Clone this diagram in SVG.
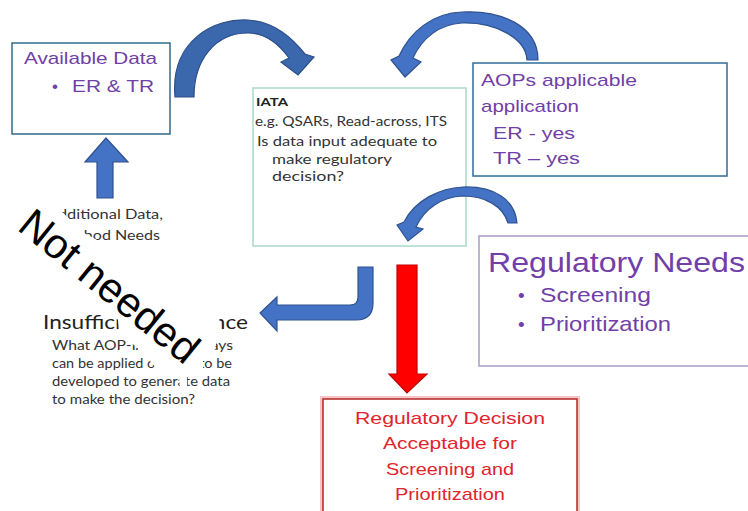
<svg xmlns="http://www.w3.org/2000/svg" width="748" height="511" viewBox="0 0 748 511">
<style>
.box{fill:#fff;stroke-width:1.5}
.arial{font-family:"Liberation Sans",Arial,sans-serif}
.cal{font-family:Lato,"Open Sans",sans-serif}
.purple{fill:#7040a8}
.gray{fill:#333}
.blue{fill:#4472c4;stroke:#2f528f;stroke-width:1.2}
.dblue{fill:#3b67ad;stroke:#2b4f8a;stroke-width:1.2}
</style>
<rect width="748" height="511" fill="#fff"/>

<g id="available-data">
<rect class="box" x="12" y="43" width="158" height="91" stroke="#2e6c8a"/>
<text class="arial purple" x="24" y="64" font-size="17" textLength="133" lengthAdjust="spacingAndGlyphs">Available Data</text>
<text class="arial purple" x="52" y="92" font-size="17">•</text>
<text class="arial purple" x="72" y="92" font-size="17" textLength="82" lengthAdjust="spacingAndGlyphs">ER  &amp; TR</text>
</g>

<g id="iata">
<rect class="box" x="253" y="88" width="213" height="158" stroke="#a9d9c9"/>
<text class="cal" x="256" y="106" font-size="12" font-weight="bold" fill="#222" textLength="32" lengthAdjust="spacingAndGlyphs">IATA</text>
<text class="cal gray" x="255" y="126" font-size="14" textLength="192" lengthAdjust="spacingAndGlyphs">e.g. QSARs, Read-across, ITS</text>
<text class="cal gray" x="257" y="146" font-size="14" textLength="180" lengthAdjust="spacingAndGlyphs">Is data input adequate to</text>
<text class="cal gray" x="272" y="164" font-size="14" textLength="120" lengthAdjust="spacingAndGlyphs">make regulatory</text>
<text class="cal gray" x="272" y="181" font-size="14" textLength="72" lengthAdjust="spacingAndGlyphs">decision?</text>
</g>

<g id="aops">
<rect class="box" x="473" y="63" width="254" height="113" stroke="#2e6c9a"/>
<text class="arial purple" x="481" y="86" font-size="17" textLength="156" lengthAdjust="spacingAndGlyphs">AOPs applicable</text>
<text class="arial purple" x="481" y="112" font-size="17" textLength="98" lengthAdjust="spacingAndGlyphs">application</text>
<text class="arial purple" x="493" y="139" font-size="17" textLength="82" lengthAdjust="spacingAndGlyphs">ER  - yes</text>
<text class="arial purple" x="493" y="164" font-size="17" textLength="87" lengthAdjust="spacingAndGlyphs">TR – yes</text>
</g>

<g id="regulatory-needs">
<rect class="box" x="479" y="236" width="280" height="130" stroke="#a89cc4"/>
<text class="arial purple" x="488" y="272" font-size="28" textLength="257" lengthAdjust="spacingAndGlyphs">Regulatory  Needs</text>
<text class="arial purple" x="518" y="302" font-size="19">•</text>
<text class="arial purple" x="540" y="302" font-size="21" textLength="111" lengthAdjust="spacingAndGlyphs">Screening</text>
<text class="arial purple" x="518" y="331" font-size="19">•</text>
<text class="arial purple" x="540" y="331" font-size="21" textLength="131" lengthAdjust="spacingAndGlyphs">Prioritization</text>
</g>

<g id="regulatory-decision">
<rect x="323" y="399" width="254" height="130" fill="none" stroke="#f6c4c4" stroke-width="6"/>
<rect class="box" x="323" y="399" width="254" height="130" stroke="#b42828"/>
<text class="arial" x="450" y="424" font-size="17" fill="#e0242c" text-anchor="middle" textLength="190" lengthAdjust="spacingAndGlyphs">Regulatory Decision</text>
<text class="arial" x="450" y="449" font-size="17" fill="#e0242c" text-anchor="middle" textLength="134" lengthAdjust="spacingAndGlyphs">Acceptable for</text>
<text class="arial" x="450" y="475" font-size="17" fill="#e0242c" text-anchor="middle" textLength="128" lengthAdjust="spacingAndGlyphs">Screening and</text>
<text class="arial" x="450" y="500" font-size="17" fill="#e0242c" text-anchor="middle" textLength="110" lengthAdjust="spacingAndGlyphs">Prioritization</text>
</g>

<g id="additional-data">
<text class="cal gray" x="47" y="219" font-size="14" textLength="116" lengthAdjust="spacingAndGlyphs">Additional Data,</text>
<text class="cal gray" x="55" y="240" font-size="14" textLength="105" lengthAdjust="spacingAndGlyphs">Method Needs</text>
</g>

<g id="insufficient-evidence">
<text class="cal" x="43" y="329" font-size="20" fill="#222" textLength="205" lengthAdjust="spacingAndGlyphs">Insufficient Evidence</text>
<text class="cal gray" x="52" y="350" font-size="13" textLength="181" lengthAdjust="spacingAndGlyphs">What AOP-IATA pathways</text>
<text class="cal gray" x="52" y="368" font-size="13" textLength="180" lengthAdjust="spacingAndGlyphs">can be applied or need to be</text>
<text class="cal gray" x="52" y="386" font-size="13" textLength="178" lengthAdjust="spacingAndGlyphs">developed to generate data</text>
<text class="cal gray" x="52" y="404" font-size="13" textLength="143" lengthAdjust="spacingAndGlyphs">to make the decision?</text>
</g>

<g id="connectors">
<path class="dblue" d="M175 97 C170 40 215 18 248 20 C275 22 292 38 305 54 L314 57 L298 75 L281 62 L289 58 C278 43 264 33 248 33 C215 33 194 60 194 97 Z"/>
<path class="blue" d="M538 60 C538 25 500 10 462 12 C432 13 410 32 399 56 L391 60 L405 77 L421 62 L413 58 C422 38 440 24 462 23 C495 22 526 38 527 60 Z"/>
<path class="blue" d="M517 223 C515 200 495 186 463 187 C440 188 415 200 404 222 L397 225 L408 241 L423 229 L416 227 C425 208 442 197 463 196 C485 196 503 206 508 223 Z"/>
<path class="blue" d="M358 267 L373 267 L373 303 Q373 320 356 320 L277 320 L277 331 L260 313 L277 297 L277 305 L350 305 Q358 305 358 297 Z"/>
<path d="M397 265 L417 265 L417 374 L427 374 L407 393 L389 374 L397 374 Z" fill="#ff0000" stroke="#c00000" stroke-width="1.2"/>
<path class="blue" d="M97 198 L113 198 L113 162 L128 162 L106 138 L85 162 L97 162 Z"/>
</g>

<g id="not-needed">
<path d="M34 204 L46 201 L61 211 L84 233 L220 305 L219 333 L214 352 L203 356 L203 373 L187 375 L187 390 L180 390 L179 374 L158 370 L142 352 L119 332 L117 308 L54 252 L36 232 Z" fill="#fff"/>
<text class="arial" transform="translate(16 229) rotate(39)" font-size="42" fill="#000" stroke="#fff" stroke-width="12" stroke-linejoin="round" paint-order="stroke">Not needed</text>
</g>
</svg>
